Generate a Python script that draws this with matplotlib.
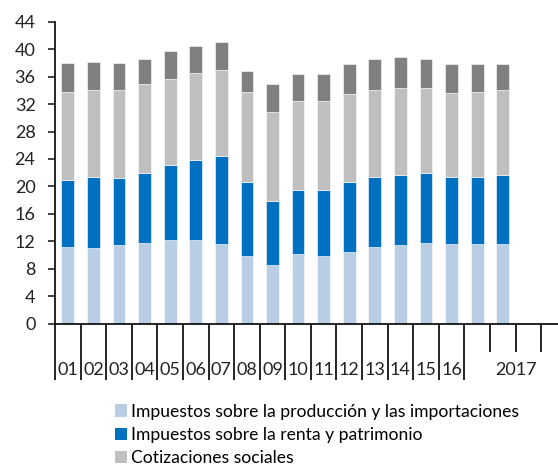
import numpy as np
import matplotlib
matplotlib.use("Agg")
import matplotlib.pyplot as plt
from matplotlib.patches import Patch

# =====================================================
# DATA
# =====================================================

labels = ["01", "02", "03", "04", "05", "06", "07", "08", "09",
          "10", "11", "12", "13", "14", "15", "16"]
group_label = "2017"

produccion = [11.2, 11.0, 11.4, 11.8, 12.2, 12.2, 11.6, 9.9, 8.5,
              10.1, 9.9, 10.4, 11.2, 11.4, 11.8, 11.6, 11.6, 11.6]
renta = [20.9, 21.4, 21.2, 22.0, 23.1, 23.9, 24.4, 20.6, 17.9,
         19.5, 19.5, 20.6, 21.4, 21.7, 21.9, 21.4, 21.4, 21.7]
cotizaciones = [33.8, 34.0, 34.0, 34.9, 35.7, 36.6, 37.0, 33.8, 30.9,
                32.4, 32.4, 33.5, 34.0, 34.3, 34.3, 33.6, 33.8, 34.1]
total = [38.0, 38.2, 38.0, 38.6, 39.7, 40.5, 41.0, 36.8, 34.9,
         36.4, 36.4, 37.8, 38.6, 38.8, 38.6, 37.8, 37.8, 37.8]

series_names = [
    "Impuestos sobre la producción y las importaciones",
    "Impuestos sobre la renta y patrimonio",
    "Cotizaciones sociales",
]

COLORS = ["#B9CDE5", "#0070C0", "#BFBFBF", "#808080"]

# =====================================================
# FIGURE
# =====================================================

plt.rcParams["font.family"] = ["Lato", "DejaVu Sans"]

fig = plt.figure(figsize=(5.58, 4.65), dpi=100)
ax = fig.add_axes([0.0986, 0.3039, 0.9014, 0.6494])

x = np.arange(len(produccion))
p = np.array(produccion)
r = np.array(renta)
c = np.array(cotizaciones)
t = np.array(total)

# cumulative values -> segment heights
segments = [p, r - p, c - r, t - c]
bottom = np.zeros(len(x))

for seg, col in zip(segments, COLORS):
    ax.bar(
        x,
        seg,
        bottom=bottom,
        width=0.5,
        color=col,
        edgecolor="white",
        linewidth=0.4
    )
    bottom = bottom + seg

# =====================================================
# AXES
# =====================================================

ax.set_ylim(0, 44)
ax.set_yticks(np.arange(0, 45, 4))
ax.set_xlim(-0.5, 19.16)

for side in ["top", "right"]:
    ax.spines[side].set_visible(False)
ax.spines["left"].set_linewidth(1.2)
ax.spines["bottom"].set_linewidth(1.2)

ax.tick_params(
    axis="y",
    direction="out",
    length=5,
    width=1.2,
    pad=9,
    labelsize=13,
    colors="#222222"
)

# long ticks between years, short ticks inside 2017 group
ax.set_xticks(np.arange(-0.5, 16, 1.0))
ax.set_xticks([16.5, 17.5, 18.5], minor=True)
ax.tick_params(axis="x", which="major", direction="out",
               length=40, width=1.2, labelbottom=False)
ax.tick_params(axis="x", which="minor", direction="out",
               length=20, width=1.2, labelbottom=False)

trans = ax.get_xaxis_transform()
for i, lab in enumerate(labels):
    ax.text(i, -0.17, lab, transform=trans, ha="center",
            va="baseline", fontsize=13, color="#222222")
ax.text(17.5, -0.17, group_label, transform=trans, ha="center",
        va="baseline", fontsize=13, color="#222222")

# =====================================================
# LEGEND
# =====================================================

handles = [Patch(facecolor=col, edgecolor="none") for col in COLORS[:3]]

fig.legend(
    handles,
    series_names,
    loc="upper left",
    bbox_to_anchor=(0.206, 0.132),
    frameon=False,
    fontsize=12.6,
    handlelength=0.7,
    handleheight=0.7,
    handletextpad=0.2,
    labelspacing=0.42,
    borderaxespad=0,
    borderpad=0
)

fig.savefig("out.png", dpi=100)
plt.close(fig)
